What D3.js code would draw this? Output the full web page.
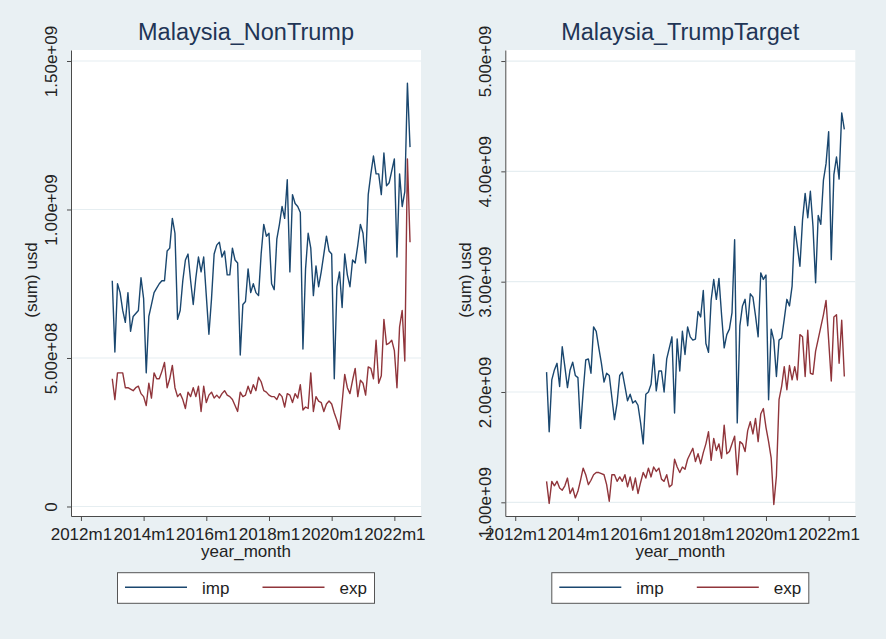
<!DOCTYPE html>
<html><head><meta charset="utf-8">
<script src="https://cdn.jsdelivr.net/npm/d3@7"></script>
<style>
body{margin:0;background:#e9f0f3;}
svg{display:block;font-family:"Liberation Sans",Arial,Helvetica,sans-serif;}
</style>
</head><body>
<svg id="chart" width="886" height="639"></svg>
<script>
// ---------------- data ----------------
const panelTitles = ["Malaysia_NonTrump", "Malaysia_TrumpTarget"];
const seriesNames = ["imp", "exp"];
const firstMonth = 12;               // 2013m1, counted in months since 2012m1
const xTickValues = [0, 24, 48, 72, 96, 120];
const xTickLabels = ["2012m1", "2014m1", "2016m1", "2018m1", "2020m1", "2022m1"];
const nonTrumpYTicks = [0, 5e8, 1e9, 1.5e9];
const trumpYTicks = [1e9, 2e9, 3e9, 4e9, 5e9];
const xTitle = "year_month";
const yTitle = "(sum) usd";

// Malaysia_NonTrump, units of 1e8 usd, 2013m1 .. 2022m7
const nonTrumpUnit = 1e8;
const nonTrumpImp = [
  7.6, 5.2, 7.5, 7.2, 6.6, 6.2, 7.2, 5.9, 6.4, 6.5,
  6.6, 7.7, 7.0, 4.5, 6.4, 6.8, 7.2, 7.35, 7.5, 7.6,
  7.6, 8.6, 8.7, 9.7, 9.2, 6.3, 6.6, 7.6, 8.3, 8.5,
  7.6, 6.8, 7.7, 8.4, 7.9, 8.4, 7.1, 5.8, 7.0, 8.5,
  8.8, 8.9, 8.4, 8.6, 7.8, 7.8, 8.7, 8.3, 8.2, 5.1,
  6.8, 6.9, 8.0, 7.2, 7.5, 7.2, 7.1, 8.5, 9.5, 9.1,
  9.2, 7.5, 7.3, 9.0, 9.5, 10.1, 9.7, 11.0, 7.9, 10.5,
  10.2, 10.1, 9.9, 5.3, 8.0, 9.2, 8.7, 7.1, 8.1, 7.4,
  7.9, 8.5, 9.1, 8.6, 8.5, 4.3, 7.4, 7.9, 6.7, 8.5,
  7.8, 7.4, 8.3, 8.2, 8.8, 9.5, 9.2, 8.2, 10.5, 11.2,
  11.8, 11.2, 11.2, 10.5, 11.9, 10.8, 10.9, 11.3, 11.7, 8.4,
  11.2, 10.1, 10.6, 14.25, 12.1
];
const nonTrumpExp = [
  4.3, 3.6, 4.5, 4.5, 4.5, 4.0, 4.0, 3.95, 3.9, 4.0,
  4.05, 3.8, 3.7, 3.4, 4.15, 3.65, 4.5, 4.3, 4.3, 4.55,
  4.85, 4.0, 4.3, 4.75, 4.0, 3.7, 3.8, 3.6, 3.3, 3.85,
  3.7, 4.0, 3.7, 4.05, 3.2, 4.05, 3.5, 3.75, 3.85, 3.65,
  3.75, 3.65, 3.8, 3.9, 3.75, 3.7, 3.6, 3.4, 3.2, 3.85,
  3.7, 3.75, 4.05, 3.8, 4.1, 3.9, 4.35, 4.2, 3.9, 3.85,
  3.75, 3.7, 3.7, 3.6, 3.8, 3.7, 3.35, 3.8, 3.75, 3.5,
  3.8, 3.65, 4.1, 3.25, 3.35, 3.3, 4.5, 3.2, 3.7, 3.55,
  3.5, 3.2, 3.45, 3.55, 3.45, 3.15, 2.9, 2.6, 3.5, 4.45,
  4.0, 3.8, 4.25, 4.65, 3.7, 4.25, 4.15, 3.75, 4.7, 4.65,
  4.3, 5.6, 4.15, 4.4, 6.3, 5.45, 5.5, 5.6, 5.25, 4.0,
  6.05, 6.6, 4.9, 11.7, 8.9
];

// Malaysia_TrumpTarget, units of 1e9 usd, 2013m1 .. 2022m7
const trumpUnit = 1e9;
const trumpImp = [
  2.18, 1.64, 2.11, 2.2, 2.26, 2.05, 2.41, 2.23, 2.04, 2.2,
  2.27, 2.15, 2.13, 1.67, 2.0, 2.29, 2.3, 2.17, 2.59, 2.55,
  2.4, 2.26, 2.09, 2.17, 2.15, 1.95, 1.75, 1.9, 2.15, 2.18,
  2.05, 1.92, 1.98, 1.9, 1.92, 1.88, 1.72, 1.53, 1.98, 2.0,
  2.07, 2.34, 2.01, 2.19, 2.19, 2.0, 2.3, 2.4, 2.5, 1.81,
  2.48, 2.19, 2.55, 2.34, 2.59, 2.5, 2.47, 2.48, 2.73, 2.68,
  2.92, 2.44, 2.36, 2.83, 3.02, 2.84, 3.03, 2.7, 2.4, 2.52,
  2.57, 2.72, 3.38, 1.72, 2.6, 2.78, 2.84, 2.6, 2.89, 2.86,
  2.69, 2.5, 3.08, 3.02, 3.06, 1.93, 2.57, 2.47, 2.14, 2.47,
  2.49, 2.66, 2.84, 2.78, 2.96, 3.5, 3.32, 3.14, 3.56, 3.8,
  3.58, 3.82, 3.5, 2.99, 3.6, 3.52, 3.92, 4.07, 4.36, 3.2,
  3.97, 4.13, 3.93, 4.53, 4.38
];
const trumpExp = [
  1.19, 0.99, 1.19, 1.15, 1.19, 1.13, 1.11, 1.15, 1.22, 1.08,
  1.13, 1.04, 1.1, 1.2, 1.31, 1.25, 1.16, 1.2, 1.25, 1.27,
  1.27, 1.26, 1.25, 1.16, 1.01, 1.25, 1.25, 1.19, 1.23, 1.19,
  1.25, 1.14, 1.23, 1.11, 1.22, 1.08, 1.18, 1.27, 1.22, 1.31,
  1.23, 1.32, 1.28, 1.31, 1.21, 1.19, 1.25, 1.14, 1.16, 1.39,
  1.32, 1.27, 1.32, 1.3, 1.39, 1.44, 1.49, 1.37, 1.44, 1.35,
  1.45, 1.53, 1.64, 1.38, 1.58, 1.47, 1.53, 1.4, 1.7, 1.44,
  1.46, 1.53, 1.6, 1.25, 1.55, 1.53, 1.46, 1.65, 1.73, 1.62,
  1.76, 1.55, 1.8, 1.85, 1.68, 1.55, 1.4, 0.98, 1.24, 1.93,
  2.05, 2.23, 2.02, 2.24, 2.11, 2.23, 2.11, 2.52, 2.5, 2.14,
  2.56, 2.17, 2.16, 2.37, 2.48, 2.59, 2.7, 2.83, 2.47, 2.1,
  2.68, 2.7, 2.26, 2.65, 2.14
];

// ---------------- layout / style ----------------
const colors = {bg: "#e9f0f3", plot: "#ffffff", grid: "#e6eef1", axis: "#4a4a4a",
                text: "#222222", title: "#1f3556", imp: "#1a476f", exp: "#90353b"};
const plotTop = 50, plotBottom = 516, plotW = 350;
const panels = [
  {title: panelTitles[0], imp: nonTrumpImp, exp: nonTrumpExp, unit: nonTrumpUnit,
   yTicks: nonTrumpYTicks, yDomain: [-0.032e9, 1.537e9], left: 71},
  {title: panelTitles[1], imp: trumpImp, exp: trumpExp, unit: trumpUnit,
   yTicks: trumpYTicks, yDomain: [0.876e9, 5.10e9], left: 505.3}
];
const xDomain = [-3.8, 130.2];
const font = 17;

function fmtY(v) {
  if (v === 0) return "0";
  const [m, e] = v.toExponential(2).split("e");
  return m + "e" + e[0] + String(Math.abs(+e)).padStart(2, "0");
}

const svg = d3.select("#chart");
svg.append("rect").attr("width", 886).attr("height", 639).attr("fill", colors.bg);

panels.forEach(p => {
  const x = d3.scaleLinear().domain(xDomain).range([p.left, p.left + plotW]);
  const y = d3.scaleLinear().domain(p.yDomain).range([plotBottom, plotTop]);
  const g = svg.append("g");

  // plot region
  g.append("rect").attr("x", x(xDomain[0])).attr("y", y(p.yDomain[1]))
    .attr("width", x(xDomain[1]) - x(xDomain[0]))
    .attr("height", y(p.yDomain[0]) - y(p.yDomain[1]))
    .attr("fill", colors.plot);

  // gridlines
  g.selectAll(".grid").data(p.yTicks).join("line")
    .attr("x1", x(xDomain[0])).attr("x2", x(xDomain[1]))
    .attr("y1", d => y(d)).attr("y2", d => y(d))
    .attr("stroke", colors.grid).attr("stroke-width", 1.2);

  // series lines
  const series = [{name: seriesNames[0], vals: p.imp, color: colors.imp},
                  {name: seriesNames[1], vals: p.exp, color: colors.exp}];
  series.forEach(s => {
    const line = d3.line().x((d, i) => x(firstMonth + i)).y(d => y(d * p.unit));
    g.append("path").datum(s.vals).attr("d", line)
      .attr("fill", "none").attr("stroke", s.color).attr("stroke-width", 1.4)
      .attr("stroke-linejoin", "round");
  });

  // y axis
  const yAxis = d3.axisLeft(y).tickValues(p.yTicks).tickFormat(fmtY).tickSize(4).tickSizeOuter(0);
  const ya = g.append("g").attr("transform", `translate(${p.left},0)`).call(yAxis);
  ya.selectAll("path,line").attr("stroke", colors.axis);
  ya.selectAll("text").attr("fill", colors.text).attr("font-size", font)
    .attr("font-family", "Liberation Sans, Arial, sans-serif")
    .attr("text-anchor", "middle").attr("transform", "rotate(-90)")
    .attr("x", 0).attr("y", -14).attr("dy", 0);

  // x axis
  const xAxis = d3.axisBottom(x).tickValues(xTickValues)
    .tickFormat((d, i) => xTickLabels[i]).tickSize(5).tickSizeOuter(0);
  const xa = g.append("g").attr("transform", `translate(0,${plotBottom})`).call(xAxis);
  xa.selectAll("path,line").attr("stroke", colors.axis);
  xa.selectAll("text").attr("fill", colors.text).attr("font-size", font)
    .attr("font-family", "Liberation Sans, Arial, sans-serif")
    .attr("y", 24).attr("dy", 0);

  const cx = (x(xDomain[0]) + x(xDomain[1])) / 2;
  // title
  g.append("text").attr("x", cx).attr("y", 40).attr("text-anchor", "middle")
    .attr("font-size", 23.5).attr("fill", colors.title).text(p.title);
  // axis titles
  g.append("text").attr("x", cx).attr("y", 557).attr("text-anchor", "middle")
    .attr("font-size", font).attr("fill", colors.text).text(xTitle);
  g.append("text").attr("transform", `translate(${p.left - 34},${(plotTop + plotBottom) / 2 - 3}) rotate(-90)`)
    .attr("text-anchor", "middle").attr("font-size", font).attr("fill", colors.text).text(yTitle);

  // legend
  const lx = cx - 128.5, ly = 572.7, lw = 257, lh = 30.6;
  const lg = g.append("g");
  lg.append("rect").attr("x", lx).attr("y", ly).attr("width", lw).attr("height", lh)
    .attr("fill", "#ffffff").attr("stroke", "#555").attr("stroke-width", 1);
  series.forEach((s, k) => {
    const ox = lx + 7.5 + k * 137.5;
    lg.append("line").attr("x1", ox).attr("x2", ox + 62).attr("y1", ly + 14.6).attr("y2", ly + 14.6)
      .attr("stroke", s.color).attr("stroke-width", 1.4);
    lg.append("text").attr("x", ox + 77).attr("y", ly + 21).attr("font-size", font)
      .attr("fill", colors.text).text(s.name);
  });
});
</script>
</body></html>
